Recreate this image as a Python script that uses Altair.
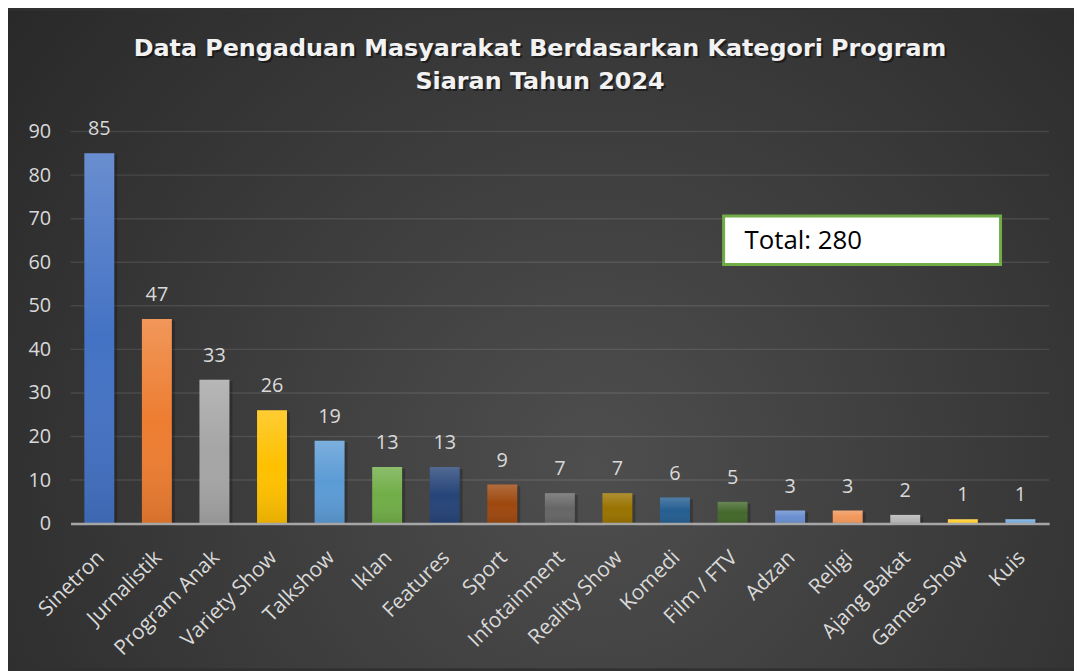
import altair as alt
import pandas as pd

categories = ["Sinetron", "Jurnalistik", "Program Anak", "Variety Show", "Talkshow",
              "Iklan", "Features", "Sport", "Infotainment", "Reality Show", "Komedi",
              "Film / FTV", "Adzan", "Religi", "Ajang Bakat", "Games Show", "Kuis"]
values = [85, 47, 33, 26, 19, 13, 13, 9, 7, 7, 6, 5, 3, 3, 2, 1, 1]
colors = ["#4472C4", "#ED7D31", "#A5A5A5", "#FFC000", "#5B9BD5", "#70AD47",
          "#264478", "#9E480E", "#666666", "#997300", "#255E91", "#43682B",
          "#698ED0", "#F1975A", "#B7B7B7", "#FFCD33", "#7CAFDD"]
y_ticks = [0, 10, 20, 30, 40, 50, 60, 70, 80, 90]
title_lines = ["Data Pengaduan Masyarakat Berdasarkan Kategori Program",
               "Siaran Tahun 2024"]
total_label = "Total: " + str(sum(values))

df = pd.DataFrame({"kategori": categories, "jumlah": values})
grid_df = pd.DataFrame({"jumlah": y_ticks[1:]})
one_df = pd.DataFrame({"label": [total_label]})

W, H = 986, 395
PL, PT, PR, PB = 63, 122, 25, 146
FONT = "Open Sans"
TFONT = "DejaVu Sans"

x_enc = alt.X("kategori:N", sort=None,
              scale=alt.Scale(paddingInner=0.48, paddingOuter=0.24),
              axis=alt.Axis(title=None, labelAngle=-45, labelAlign="right",
                            labelBaseline="top", labelPadding=23, labelOffset=-6,
                            labelFontSize=21, labelFont=FONT, labelColor="#d9d9d9",
                            ticks=False, domain=True, domainColor="#a6a6a6",
                            domainWidth=2.5, grid=False, zindex=1))
y_scale = alt.Scale(domain=[0, 90], nice=False)
y_axis = alt.Axis(title=None, values=y_ticks, labelFontSize=20,
                  labelFont=FONT, labelColor="#d9d9d9", labelPadding=20,
                  ticks=False, domain=False, grid=False, zindex=1)
y_enc = alt.Y("jumlah:Q", scale=y_scale, axis=y_axis)

background = alt.Chart(one_df).mark_rect(
    fill=alt.RadialGradient(
        gradient="radial", x1=0.55, y1=0.62, r1=0, x2=0.55, y2=0.62, r2=0.75,
        stops=[alt.GradientStop(color="#4e4e4e", offset=0),
               alt.GradientStop(color="#3a3a3a", offset=0.5),
               alt.GradientStop(color="#262626", offset=1)])
).encode(x=alt.value(-PL), x2=alt.value(W + PR),
         y=alt.value(-PT), y2=alt.value(H + PB))

title_shadow = alt.Chart(one_df).mark_text(
    text=title_lines, font=TFONT, fontSize=24, fontWeight="bold", color="#000000",
    opacity=0.45, lineHeight=33, align="center", baseline="middle"
).encode(x=alt.value(475), y=alt.value(-81))
title = alt.Chart(one_df).mark_text(
    text=title_lines, font=TFONT, fontSize=24, fontWeight="bold", color="#f2f2f2",
    lineHeight=33, align="center", baseline="middle"
).encode(x=alt.value(473), y=alt.value(-83))

grid = alt.Chart(grid_df).mark_rule(color="#ffffff", opacity=0.1, strokeWidth=1.5).encode(
    y=y_enc)

base = alt.Chart(df).encode(x=x_enc, y=y_enc)

shadow = base.mark_bar(color="#000000", opacity=0.22, xOffset=3, yOffset=2)

bars = base.mark_bar().encode(
    color=alt.Color("kategori:N", sort=None,
                    scale=alt.Scale(domain=categories, range=colors), legend=None))

shine = base.mark_bar(fill=alt.LinearGradient(
    gradient="linear", x1=0, y1=0, x2=0, y2=1,
    stops=[alt.GradientStop(color="rgba(255,255,255,0.20)", offset=0),
           alt.GradientStop(color="rgba(255,255,255,0.0)", offset=0.5),
           alt.GradientStop(color="rgba(0,0,0,0.10)", offset=1)]))

labels = base.mark_text(baseline="alphabetic", dy=-18, fontSize=20, font=FONT,
                        color="#d9d9d9").encode(text="jumlah:Q")

box = alt.Chart(one_df).mark_rect(fill="white", stroke="#70AD47", strokeWidth=3).encode(
    x=alt.value(658), x2=alt.value(937), y=alt.value(85), y2=alt.value(134))
box_text = alt.Chart(one_df).mark_text(align="left", baseline="middle", fontSize=26,
                                       font=FONT, color="#000000").encode(
    x=alt.value(679), y=alt.value(110), text="label:N")

chart = alt.layer(background, title_shadow, title, grid, shadow, bars, shine, labels,
                  box, box_text).properties(
    width=W, height=H,
    padding={"left": PL, "top": PT, "right": PR, "bottom": PB},
    autosize=alt.AutoSizeParams(type="none"),
    background="#303030",
).configure_view(stroke=None)

chart.save("out.html", embed_options={"renderer": "svg", "actions": False})
